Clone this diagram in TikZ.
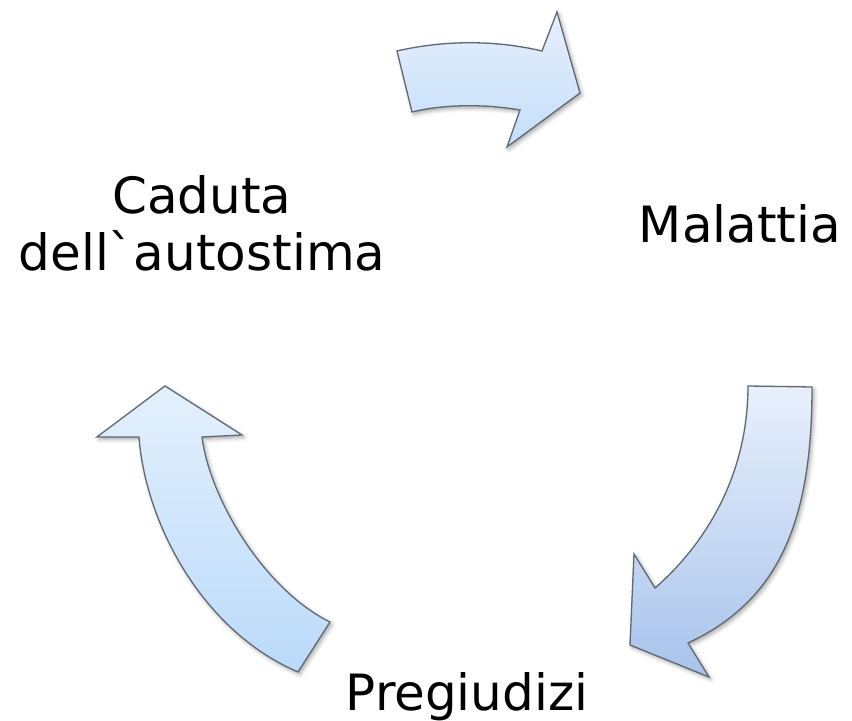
\documentclass[tikz,border=0pt]{standalone}
\usepackage{fontspec}
\newfontfamily\vf{DejaVu Sans}
\usetikzlibrary{shadows.blur}
\definecolor{edgec}{RGB}{95,104,115}
\definecolor{atop}{RGB}{230,239,252}
\definecolor{abot}{RGB}{196,222,250}
\definecolor{btop}{RGB}{232,240,251}
\definecolor{bbot}{RGB}{168,195,236}
\definecolor{ctop}{RGB}{228,240,252}
\definecolor{cbot}{RGB}{186,218,250}
\tikzset{
  blockarrow/.style={draw=edgec, line width=0.65pt, line join=miter,
    blur shadow={shadow xshift=1pt, shadow yshift=-1.2pt, shadow blur radius=2pt, shadow opacity=35}},
  lbl/.style={font=\vf\fontsize{25}{28.5}\selectfont, inner sep=0pt, text=black}
}
\begin{document}
\begin{tikzpicture}[x=0.5pt,y=-0.5pt]
\useasboundingbox (0,0) rectangle (852,721);
% top arrow
\path[blockarrow, top color=atop, bottom color=abot]
  (397,51) .. controls (445,40) and (495,40) .. (542,51) -- (557,12) -- (580,93)
  -- (507,147) -- (520,110) .. controls (485,104) and (445,104) .. (412,112) -- cycle;
% right arrow
\path[blockarrow, top color=btop, bottom color=bbot]
  (748,386) -- (812,387) .. controls (812,520) and (780,600) .. (688,643)
  -- (709,677) -- (630,645) -- (634,554) -- (655,588)
  .. controls (710,540) and (748,470) .. (748,386) -- cycle;
% left arrow
\path[blockarrow, top color=ctop, bottom color=cbot]
  (165,386) -- (242,435) -- (202,437) .. controls (210,500) and (265,590) .. (330,622)
  -- (298,672) .. controls (200,630) and (145,520) .. (139,437) -- (97,437) -- cycle;
% labels
\node[lbl, align=center, anchor=south] (caduta) at (202,272) {Caduta\\dell`autostima};
\node[lbl, anchor=base] (malattia) at (740,243) {Malattia};
\node[lbl, anchor=base] (pregiudizi) at (467,710) {Pregiudizi};
\end{tikzpicture}
\end{document}
